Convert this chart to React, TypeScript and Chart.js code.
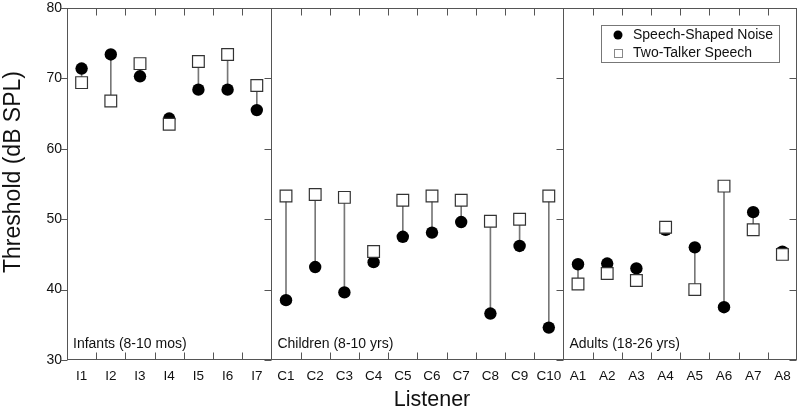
import React, { useEffect, useRef } from "react";
import { Chart, registerables } from "chart.js";

Chart.register(...registerables);

const listeners = [
  "I1", "I2", "I3", "I4", "I5", "I6", "I7",
  "C1", "C2", "C3", "C4", "C5", "C6", "C7", "C8", "C9", "C10",
  "A1", "A2", "A3", "A4", "A5", "A6", "A7", "A8",
];
const speechShapedNoise = [
  71.4, 73.4, 70.3, 64.3, 68.4, 68.4, 65.5,
  38.5, 43.2, 39.6, 43.9, 47.5, 48.1, 49.6, 36.6, 46.2, 34.6,
  43.6, 43.7, 43.0, 48.5, 46.0, 37.5, 51.0, 45.4,
];
const twoTalkerSpeech = [
  69.4, 66.8, 72.1, 63.5, 72.4, 73.4, 69.0,
  53.3, 53.5, 53.1, 45.4, 52.7, 53.3, 52.7, 49.7, 50.0, 53.3,
  40.8, 42.3, 41.3, 48.85, 40.0, 54.7, 48.5, 45.0,
];
const groupNames = ["Infants (8-10 mos)", "Children (8-10 yrs)", "Adults (18-26 yrs)"];
const groupStarts = [0, 7, 17];
const seriesNames = ["Speech-Shaped Noise", "Two-Talker Speech"];
const yTicks = [30, 40, 50, 60, 70, 80];
const yTitle = "Threshold (dB SPL)";
const xTitle = "Listener";

const FONT = "'Liberation Sans', Arial, sans-serif";
const AXIS = "#555";

const framePlugin = {
  id: "frame",
  beforeDatasetsDraw(chart: any) {
    const { ctx, chartArea: a, scales } = chart;
    const x = scales.x;
    const y = scales.y;
    ctx.save();
    ctx.strokeStyle = AXIS;
    ctx.lineWidth = 1;
    const L = Math.round(a.left) + 0.5;
    const R = Math.round(a.right) - 0.5;
    const T = Math.round(a.top) + 0.5;
    const B = Math.round(a.bottom) - 0.5;
    ctx.strokeRect(L, T, R - L, B - T);
    const boundary = (i: number) => (x.getPixelForValue(i - 1) + x.getPixelForValue(i)) / 2;
    const verticals = [L, R];
    for (let g = 1; g < groupStarts.length; g++) {
      const bx = Math.round(boundary(groupStarts[g])) + 0.5;
      verticals.push(bx);
      ctx.beginPath();
      ctx.moveTo(bx, T);
      ctx.lineTo(bx, B);
      ctx.stroke();
    }
    for (const vx of verticals) {
      for (const v of yTicks) {
        const py = Math.round(y.getPixelForValue(v)) + 0.5;
        ctx.beginPath();
        ctx.moveTo(vx - 7, py);
        ctx.lineTo(vx, py);
        ctx.stroke();
      }
    }
    for (let i = 1; i < listeners.length; i++) {
      const bx = Math.round(boundary(i)) + 0.5;
      ctx.beginPath();
      ctx.moveTo(bx, B);
      ctx.lineTo(bx, B - 7);
      ctx.moveTo(bx, T);
      ctx.lineTo(bx, T + 7);
      ctx.stroke();
    }
    ctx.restore();
  },
  afterDraw(chart: any) {
    const { ctx, chartArea: a, scales } = chart;
    const x = scales.x;
    ctx.save();
    // y axis title
    ctx.save();
    ctx.translate(14, (a.top + a.bottom) / 2 - 12);
    ctx.rotate(-Math.PI / 2);
    ctx.fillStyle = "#111";
    ctx.font = `23px ${FONT}`;
    ctx.textAlign = "center";
    ctx.textBaseline = "middle";
    ctx.fillText(yTitle, 0, 0);
    ctx.restore();
    // group labels
    ctx.fillStyle = "#111";
    ctx.font = `14px ${FONT}`;
    ctx.textBaseline = "alphabetic";
    ctx.textAlign = "left";
    groupStarts.forEach((s, g) => {
      const bx = s === 0 ? a.left : (x.getPixelForValue(s - 1) + x.getPixelForValue(s)) / 2;
      ctx.fillText(groupNames[g], bx + 6, a.bottom - 12);
    });
    // legend
    const lx = a.right - 196;
    const ly = 25;
    const lw = 178;
    const lh = 37;
    ctx.fillStyle = "#fff";
    ctx.fillRect(lx, ly, lw, lh);
    ctx.strokeStyle = "#777";
    ctx.lineWidth = 1;
    ctx.strokeRect(Math.round(lx) + 0.5, ly + 0.5, lw, lh);
    ctx.fillStyle = "#000";
    ctx.beginPath();
    ctx.arc(lx + 17, ly + 10, 4.5, 0, Math.PI * 2);
    ctx.fill();
    ctx.fillStyle = "#fff";
    ctx.strokeStyle = "#888";
    ctx.fillRect(lx + 13, ly + 24, 8, 8);
    ctx.strokeRect(Math.round(lx + 13) + 0.5, ly + 24.5, 8, 8);
    ctx.fillStyle = "#111";
    ctx.font = `14px ${FONT}`;
    ctx.textBaseline = "middle";
    ctx.fillText(seriesNames[0], lx + 32, ly + 10.5);
    ctx.fillText(seriesNames[1], lx + 32, ly + 28);
    ctx.restore();
  },
};

export default function App() {
  const ref = useRef<HTMLCanvasElement>(null);
  useEffect(() => {
    if (!ref.current) return;
    const chart = new Chart(ref.current, {
      type: "bar",
      data: {
        labels: listeners,
        datasets: [
          {
            type: "bar",
            label: "diff",
            data: listeners.map((_, i) => [speechShapedNoise[i], twoTalkerSpeech[i]]) as any,
            backgroundColor: "#777",
            borderWidth: 0,
            barThickness: 1,
            order: 3,
          },
          {
            type: "line",
            label: seriesNames[0],
            data: speechShapedNoise,
            showLine: false,
            pointStyle: "circle",
            pointRadius: 6.2,
            pointBackgroundColor: "#000",
            pointBorderColor: "#000",
            pointBorderWidth: 0,
            order: 2,
          },
          {
            type: "line",
            label: seriesNames[1],
            data: twoTalkerSpeech,
            showLine: false,
            pointStyle: "rect",
            pointRadius: 8.3,
            pointBackgroundColor: "#fff",
            pointBorderColor: "#333",
            pointBorderWidth: 1.2,
            order: 1,
          },
        ],
      },
      options: {
        animation: false,
        responsive: true,
        maintainAspectRatio: false,
        layout: { autoPadding: false, padding: { left: 0, right: 3, top: 8, bottom: 0 } },
        plugins: { legend: { display: false }, tooltip: { enabled: false } },
        scales: {
          x: {
            type: "category",
            offset: true,
            grid: { display: false, drawTicks: false },
            border: { display: false },
            ticks: {
              font: { family: FONT, size: 13.5 },
              color: "#111",
              padding: 8,
              maxRotation: 0,
              autoSkip: false,
            },
            title: {
              display: true,
              text: xTitle,
              font: { family: FONT, size: 21.5 },
              color: "#111",
              padding: { top: 0, bottom: 0 },
            },
            afterFit: (s: any) => {
              s.height = 53;
              s.paddingLeft = 0;
              s.paddingRight = 0;
            },
          },
          y: {
            min: 30,
            max: 80,
            grid: { display: false, drawTicks: false },
            border: { display: false },
            ticks: {
              stepSize: 10,
              font: { family: FONT, size: 14 },
              color: "#111",
              padding: 5,
            },
            title: { display: false },
            afterFit: (s: any) => {
              s.width = 67;
              s.paddingTop = 0;
              s.paddingBottom = 0;
            },
          },
        },
      },
      plugins: [framePlugin],
    });
    return () => chart.destroy();
  }, []);
  return (
    <div style={{ position: "absolute", left: 0, top: 0, width: 800, height: 413, background: "#fff" }}>
      <canvas ref={ref} />
    </div>
  );
}
